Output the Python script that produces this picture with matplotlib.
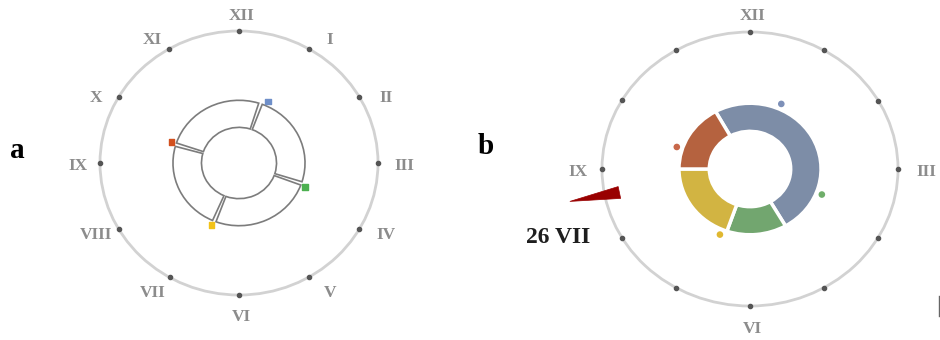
import numpy as np
import matplotlib.pyplot as plt
from matplotlib.patches import Wedge, Polygon, Circle
from matplotlib.lines import Line2D

plt.rcParams['font.family'] = ['Liberation Serif', 'DejaVu Serif']

numerals = ['XII', 'I', 'II', 'III', 'IV', 'V', 'VI', 'VII', 'VIII', 'IX', 'X', 'XI']
b_numerals = ['XII', 'III', 'VI', 'IX']

# clock angles (degrees, clockwise from XII)
marker_angles = [24, 111, 203, 288]
marker_colors_a = ['#6f8fc9', '#4cb050', '#f2c218', '#d2501e']
marker_colors_b = ['#7d90b8', '#6fae6a', '#e0b830', '#c8684a']
ring_a_bounds = [19, 109, 202, 287]

donut_start = 331
donut_spans = [179, 49, 71, 61]
donut_colors = ['#7d8da7', '#72a66f', '#d2b442', '#b5623f']

pointer_angle = 259
pointer_label = '26 VII'


def clock_xy(angle, rx, ry=None):
    if ry is None:
        ry = rx
    t = np.deg2rad(90 - np.asarray(angle, dtype=float))
    return rx * np.cos(t), ry * np.sin(t)


def dial(ax, labels):
    ax.add_patch(Circle((0, 0), 1, fill=False, ec='#d2d2d2', lw=2))
    x, y = clock_xy(np.arange(12) * 30, 1)
    ax.scatter(x, y, s=9, color='#555555', zorder=3)
    for i, lab in enumerate(numerals):
        if lab not in labels:
            continue
        a = i * 30
        a = a + 3.3 * np.sin(np.deg2rad(2 * a))
        lx, ly = clock_xy(a, 1.175, 1.14)
        ax.text(lx + 0.015, ly - 0.025, lab, ha='center', va='center', fontsize=12.5,
                color='#8c8c8c', fontweight='bold')


fig = plt.figure(figsize=(9.4, 3.4), dpi=100)
W, H = 940, 340
ax_a = fig.add_axes([16.6 / W, 12 / H, 444.8 / W, 330 / H])
ax_b = fig.add_axes([513.2 / W, -0.25 / H, 473.6 / W, 342.5 / H])
for ax in (ax_a, ax_b):
    ax.set_xlim(-1.6, 1.6)
    ax.set_ylim(-1.25, 1.25)
    ax.axis('off')

# panel a
dial(ax_a, numerals)
gap = 1.6
for i in range(4):
    a1 = ring_a_bounds[i]
    a2 = ring_a_bounds[(i + 1) % 4]
    if a2 < a1:
        a2 += 360
    ax_a.add_patch(Wedge((0, 0), 0.475, 90 - a2 + gap, 90 - a1 - gap, width=0.205,
                         fc='none', ec='#7c7c7c', lw=1.2))
mx, my = clock_xy(marker_angles, 0.51)
ax_a.scatter(mx, my, s=16, c=marker_colors_a, marker='s', zorder=4)

# panel b
dial(ax_b, b_numerals)
start = donut_start
for span, col in zip(donut_spans, donut_colors):
    ax_b.add_patch(Wedge((0, 0), 0.48, 90 - start - span, 90 - start, width=0.205,
                         fc=col, ec='white', lw=2.5))
    start += span
mx, my = clock_xy(marker_angles, 0.52)
ax_b.scatter(mx, my, s=14, c=marker_colors_b, zorder=4)

tip = clock_xy(pointer_angle, 1.24)
b1 = clock_xy(pointer_angle - 2.8, 0.9)
b2 = clock_xy(pointer_angle + 2.8, 0.9)
ax_b.add_patch(Polygon([tip, b1, b2], closed=True, fc='#990000', ec='#990000', lw=0.5, zorder=5))
ax_b.text(tip[0] - 0.08, tip[1] - 0.26, pointer_label, ha='center', va='center',
          fontsize=17, color='#1e1e1e', fontweight='bold')

fig.text(17 / W, 1 - 150 / H, 'a', ha='center', va='center', fontsize=21, fontweight='bold')
fig.text(486 / W, 1 - 147 / H, 'b', ha='center', va='center', fontsize=21, fontweight='bold')
fig.add_artist(Line2D([938.5 / W, 938.5 / W], [1 - 296 / H, 1 - 316 / H], color='#666666', lw=1))

fig.savefig('out.png', dpi=100)
